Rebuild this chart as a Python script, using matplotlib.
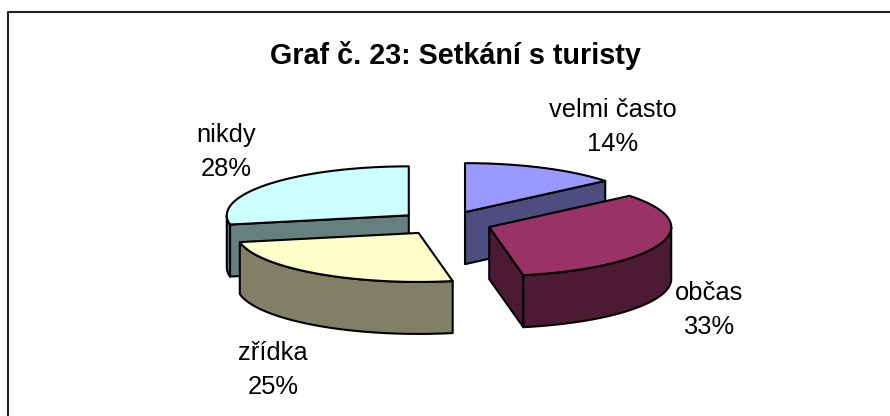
import numpy as np
import matplotlib
matplotlib.use('Agg')
import matplotlib.pyplot as plt
from matplotlib.patches import Polygon

plt.rcParams['font.family'] = ['Liberation Sans', 'DejaVu Sans']

#data, clockwise from the top
labels = ['velmi často', 'občas', 'zřídka', 'nikdy']
shares = [14, 33, 25, 28]
top_colors = ['#9999FF', '#993366', '#FFFFCC', '#CCFFFF']
side_colors = ['#4D4D80', '#4D1A33', '#808066', '#668080']
label_xy = [(613, 127), (709, 310), (273, 370), (226, 152)]

#pie geometry, pixels
cx, cy = 445, 223
rx, ry = 182, 49
depth = 52
ex, ey = 47, 12


def arc(ax0, ay0, t0, t1):
    t = np.radians(np.linspace(t0, t1, max(2, int(abs(t1 - t0)) + 1)))
    return np.c_[ax0 + rx * np.sin(t), ay0 - ry * np.cos(t)]


def draw_slice(ax, a0, a1, top, side):
    mid = np.radians((a0 + a1) / 2)
    px = cx + ex * np.sin(mid)
    py = cy - ey * np.cos(mid)
    style = dict(ec='black', lw=1.5, joinstyle='round')
    # cut faces, only those turned to the viewer
    for a, sign in ((a0, -1), (a1, 1)):
        if sign * np.sin(np.radians(a)) > 1e-6:
            edge = arc(px, py, a, a)[0]
            ax.add_patch(Polygon([(px, py), edge, edge + (0, depth), (px, py + depth)],
                                 fc=side, **style))
    # outer wall
    w0, w1 = max(a0, 90), min(a1, 270)
    if w1 > w0:
        rim = arc(px, py, w0, w1)
        ax.add_patch(Polygon(np.r_[rim, rim[::-1] + (0, depth)], fc=side, **style))
    # top
    ax.add_patch(Polygon(np.r_[[(px, py)], arc(px, py, a0, a1)], fc=top, **style))
    return px, py


fig = plt.figure(figsize=(8.9, 4.16), dpi=100)
ax = fig.add_axes([0, 0, 1, 1])
ax.set_xlim(0, 890)
ax.set_ylim(416, 0)
ax.axis('off')

#chart frame, right and bottom run off the picture
ax.plot([8, 8, 890], [416, 12, 12], color='#222222', lw=1.5)

ends = np.cumsum(shares) * 3.6
starts = np.r_[0, ends[:-1]]
order = np.argsort([-np.cos(np.radians((a + b) / 2)) * ey for a, b in zip(starts, ends)])
for i in order:
    draw_slice(ax, starts[i], ends[i], top_colors[i], side_colors[i])

for name, val, (x, y) in zip(labels, shares, label_xy):
    ax.text(x, y, f'{name}\n{val}%', ha='center', va='center', fontsize=18.4, linespacing=1.49)

ax.text(455, 55, 'Graf č. 23: Setkání s turisty', ha='center', va='center',
        fontsize=20.7, fontweight='bold')

fig.savefig('out.png', dpi=100)
